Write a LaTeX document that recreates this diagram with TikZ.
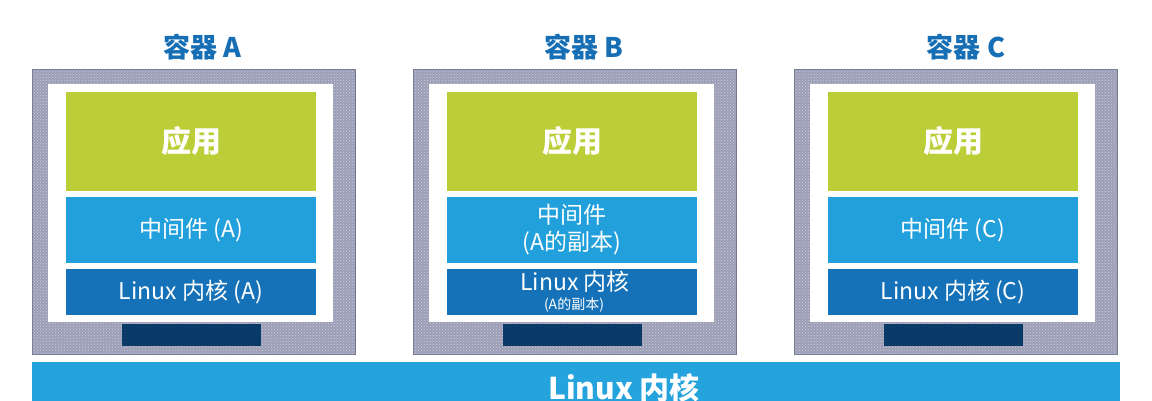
\documentclass[tikz,border=0pt]{standalone}
\usepackage{fontspec}
\setmainfont{Noto Sans CJK SC}
\usetikzlibrary{patterns}
\definecolor{appgreen}{RGB}{187,206,56}
\definecolor{midblue}{RGB}{34,160,220}
\definecolor{kerblue}{RGB}{21,114,184}
\definecolor{navy}{RGB}{10,58,104}
\definecolor{barblue}{RGB}{36,163,220}
\definecolor{titleblue}{RGB}{22,110,180}
\definecolor{framegray}{RGB}{155,158,182}
\definecolor{framedark}{RGB}{115,119,148}
\tikzset{
  box/.style={inner sep=0pt, outer sep=0pt, align=center, text=white},
  frame/.style={box, fill=framegray, draw=framedark, line width=0.5pt,
    postaction={pattern=crosshatch dots, pattern color=white!50!framegray}},
  inner/.style={box, fill=white, minimum width=285pt, minimum height=238pt},
  app/.style={box, fill=appgreen, minimum width=250pt, minimum height=99pt,
    font=\bfseries\fontsize{30}{32}\selectfont},
  mid/.style={box, fill=midblue, minimum width=250pt, minimum height=66pt,
    font=\fontsize{23}{27}\selectfont},
  ker/.style={box, fill=kerblue, minimum width=250pt, minimum height=46pt,
    font=\fontsize{23}{26}\selectfont},
  foot/.style={box, fill=navy, minimum width=139pt, minimum height=22pt},
  title/.style={inner sep=0pt, text=titleblue, font=\bfseries\fontsize{27}{29}\selectfont},
}
\begin{document}
\begin{tikzpicture}[x=1pt,y=-1pt]
\useasboundingbox (0,0) rectangle (1152,400);
\clip (0,0) rectangle (1152,400);
\fill[white] (0,0) rectangle (1152,400);
% bottom bar
\node[box, fill=barblue, minimum width=1088pt, minimum height=60pt] (bar) at (576,392) {};
\node[inner sep=0pt, text=white, font=\bfseries\fontsize{30}{32}\selectfont, anchor=base] (bartext) at (624,399) {Linux 内核};
% container A (cx = 191)
\node[frame, minimum width=323pt, minimum height=285pt] (frA) at (193.5,211.5) {};
\node[inner] (inA) at (190.5,203) {};
\node[app] (appA) at (191,141.5) {应用};
\node[mid] (midA) at (191,230) {中间件 (A)};
\node[ker] (kerA) at (191,292) {Linux 内核 (A)};
\node[foot] (ftA) at (191.5,335) {};
\node[title] (tA) at (202,47.5) {容器 A};
% container B (cx = 572)
\node[frame, minimum width=323pt, minimum height=285pt] (frB) at (574.5,211.5) {};
\node[inner] (inB) at (571.5,203) {};
\node[app] (appB) at (572,141.5) {应用};
\node[mid] (midB) at (572,230) {中间件\\(A的副本)};
\node[ker] (kerB) at (572,292) {};
\node[box, font=\fontsize{23}{23}\selectfont] (kerBa) at (575,282) {Linux 内核};
\node[box, font=\fontsize{14}{16}\selectfont] (kerBb) at (574,305) {(A的副本)};
\node[foot] (ftB) at (572.5,335) {};
\node[title] (tB) at (584,47.5) {容器 B};
% container C (cx = 953)
\node[frame, minimum width=323pt, minimum height=285pt] (frC) at (955.5,211.5) {};
\node[inner] (inC) at (952.5,203) {};
\node[app] (appC) at (953,141.5) {应用};
\node[mid] (midC) at (953,230) {中间件 (C)};
\node[ker] (kerC) at (953,292) {Linux 内核 (C)};
\node[foot] (ftC) at (953.5,335) {};
\node[title] (tC) at (966,47.5) {容器 C};
\end{tikzpicture}
\end{document}
